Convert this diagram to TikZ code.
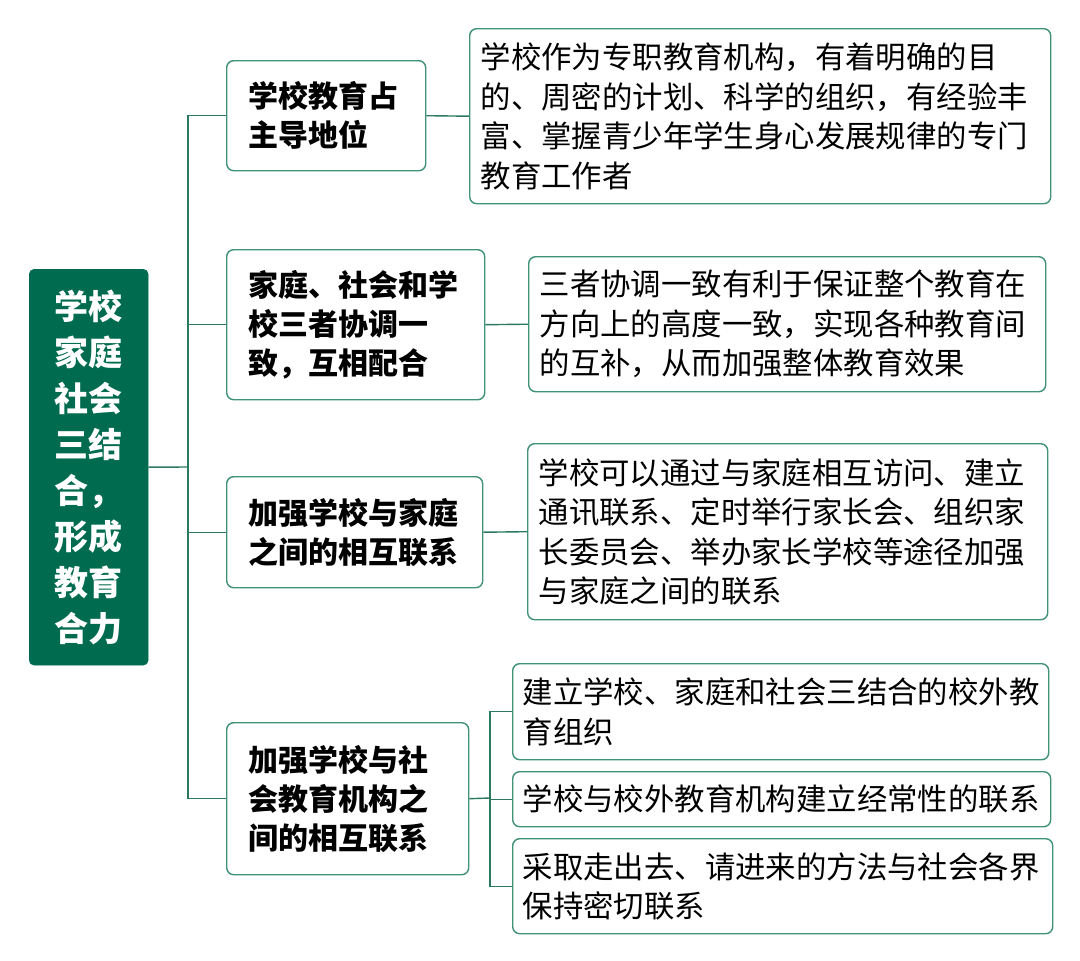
\documentclass[tikz,border=0pt]{standalone}
\usepackage{fontspec}
\newfontfamily\cjk{Noto Sans CJK SC}
\usepackage{tikz}
\definecolor{rootgreen}{HTML}{006B4F}
\definecolor{boxgreen}{HTML}{3F9275}
\definecolor{linegreen}{HTML}{2B7A5F}
\begin{document}
\begin{tikzpicture}[x=1pt,y=-1pt]
\tikzset{root/.style = {draw=rootgreen,fill=rootgreen,rounded corners=5pt,text=white,align=center,
  font=\cjk\bfseries\fontsize{34}{46}\selectfont,inner sep=0pt,anchor=north west}}
\tikzset{topic/.style = {draw=boxgreen,line width=1.4pt,rounded corners=7pt,fill=white,align=left,
  font=\cjk\bfseries\fontsize{30}{39}\selectfont,inner xsep=22pt,inner ysep=0pt,anchor=north west}}
\tikzset{detail/.style = {topic,font=\cjk\fontsize{30.4}{39.5}\selectfont,inner xsep=11pt}}
\tikzset{edge/.style = {draw=linegreen,line width=1.4pt}}
\useasboundingbox[fill=white] (0,0) rectangle (1080,961);
% root
\node[root,minimum width=119pt,minimum height=396pt] (root) at (29,269)
  {学校\\家庭\\社会\\三结\\合，\\形成\\教育\\合力};
% topics
\node[topic,text width=155pt,minimum height=110pt] (b1) at (226,60) {学校教育占\\主导地位};
\node[topic,text width=214pt,minimum height=150pt] (b2) at (226,249) {家庭、社会和学\\校三者协调一\\致，互相配合};
\node[topic,text width=212pt,minimum height=111pt] (b3) at (226,476) {加强学校与家庭\\之间的相互联系};
\node[topic,text width=198pt,minimum height=152pt] (b4) at (226,722) {加强学校与社\\会教育机构之\\间的相互联系};
% details
\node[detail,text width=559pt,minimum height=175pt] (d1) at (469,28)
  {学校作为专职教育机构，有着明确的目\\的、周密的计划、科学的组织，有经验丰\\富、掌握青少年学生身心发展规律的专门\\教育工作者};
\node[detail,text width=495pt,minimum height=135pt] (d2) at (528,256)
  {三者协调一致有利于保证整个教育在\\方向上的高度一致，实现各种教育间\\的互补，从而加强整体教育效果};
\node[detail,text width=498pt,minimum height=176pt] (d3) at (527,443)
  {学校可以通过与家庭相互访问、建立\\通讯联系、定时举行家长会、组织家\\长委员会、举办家长学校等途径加强\\与家庭之间的联系};
\node[detail,inner xsep=10pt,text width=516pt,minimum height=96pt] (e1) at (512,663)
  {建立学校、家庭和社会三结合的校外教\\育组织};
\node[detail,inner xsep=10pt,text width=518pt,minimum height=55pt] (e2) at (512,771)
  {学校与校外教育机构建立经常性的联系};
\node[detail,inner xsep=10pt,text width=520pt,minimum height=95pt] (e3) at (512,838)
  {采取走出去、请进来的方法与社会各界\\保持密切联系};
% forks
\coordinate (fork) at (188,467);
\coordinate (fork2) at (490,798);
%edges
\draw[edge] (root.east) -- (fork);
\draw[edge] (fork) |- (b1.west);
\draw[edge] (fork) |- (b2.west);
\draw[edge] (fork) |- (b3.west);
\draw[edge] (fork) |- (b4.west);
\draw[edge] (b1.east) -- (d1.west);
\draw[edge] (b2.east) -- (d2.west);
\draw[edge] (b3.east) -- (d3.west);
\draw[edge] (b4.east) -- (fork2);
\draw[edge] (fork2) |- (e1.west);
\draw[edge] (fork2) |- (e2.west);
\draw[edge] (fork2) |- (e3.west);
\end{tikzpicture}
\end{document}
